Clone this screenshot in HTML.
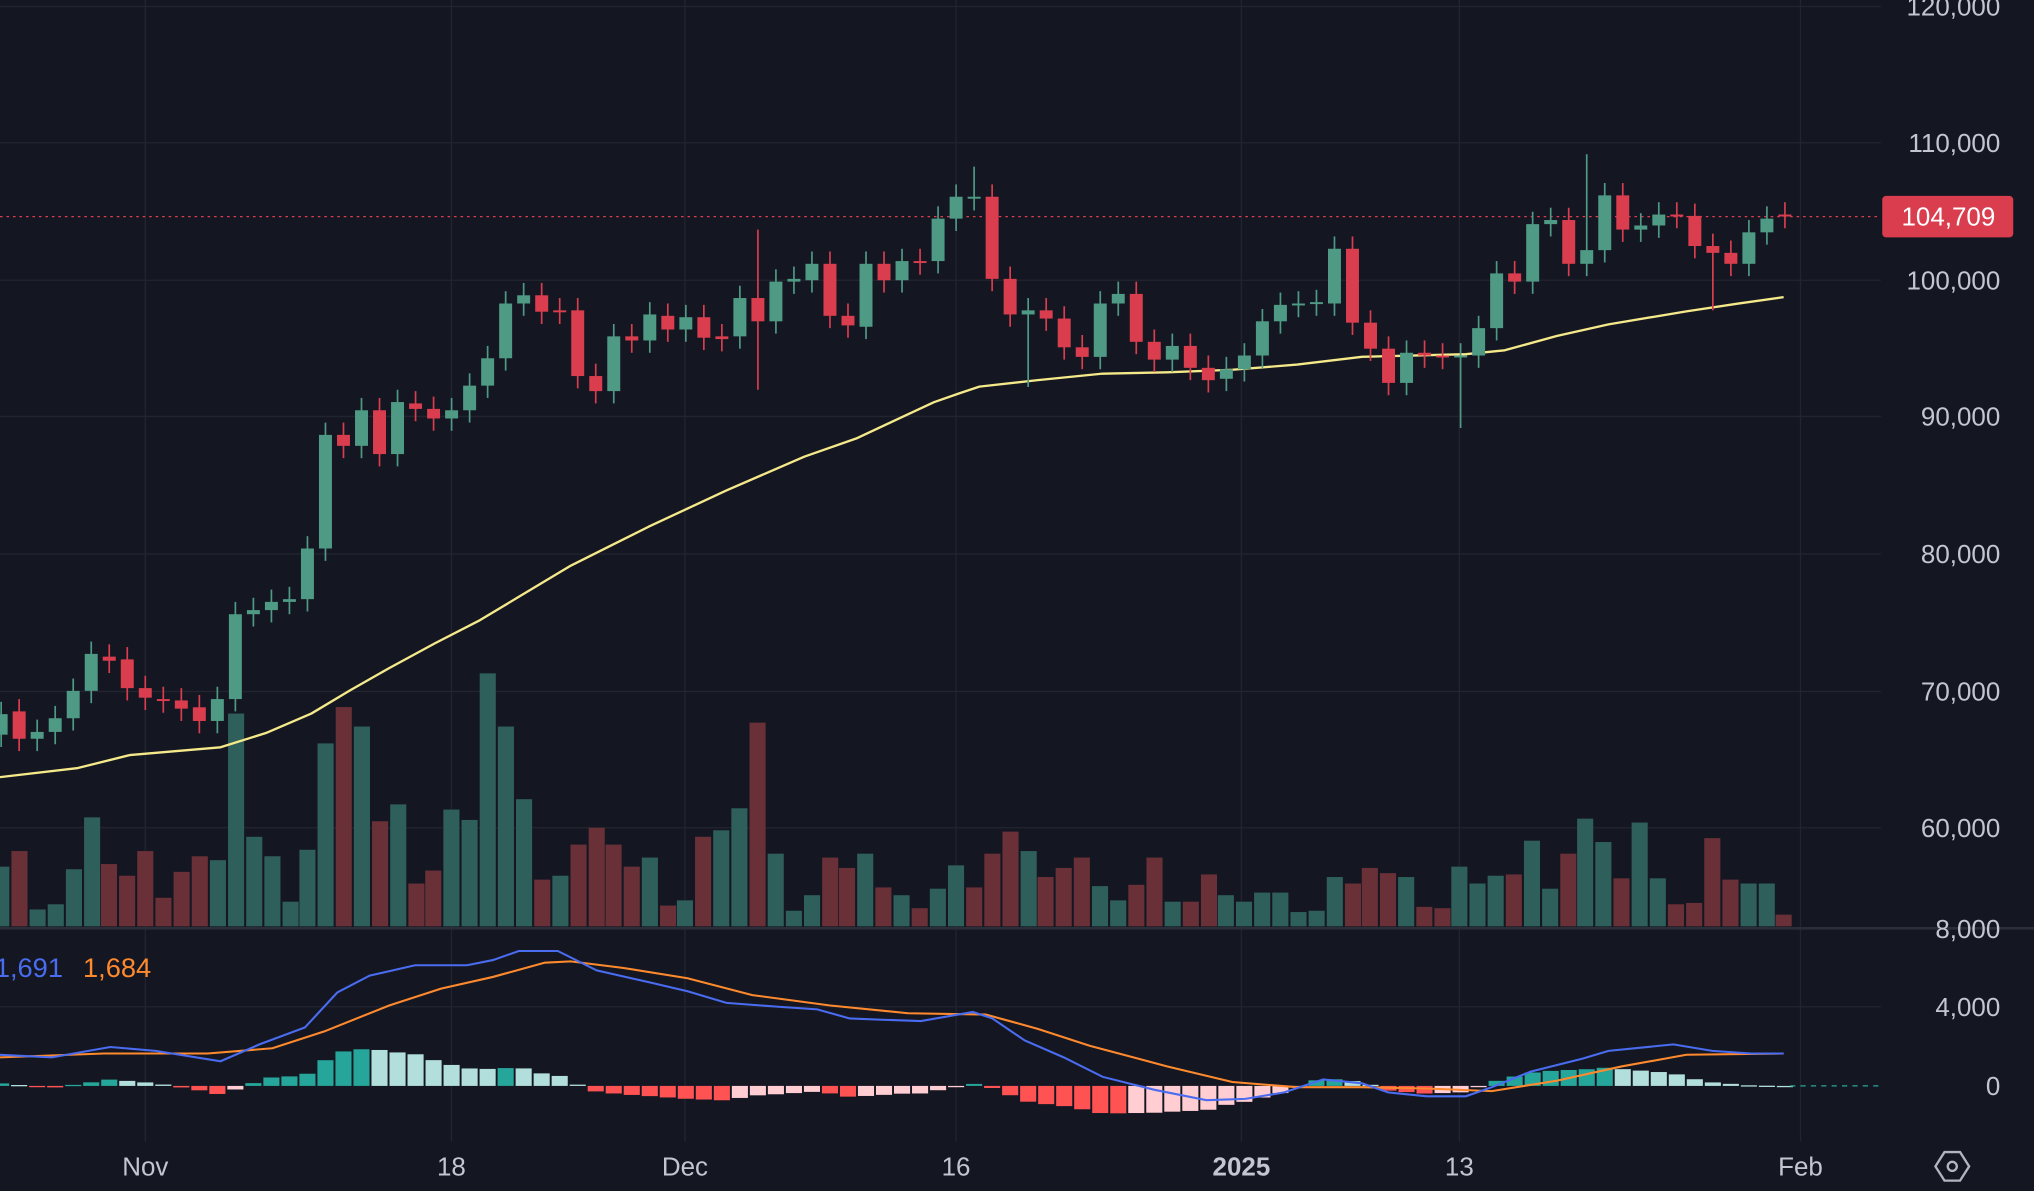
<!DOCTYPE html>
<html><head><meta charset="utf-8"><style>
html,body{margin:0;padding:0;background:#141722;overflow:hidden}
svg{display:block}
text{font-family:"Liberation Sans",sans-serif}
</style></head><body>
<svg id="s" width="2034" height="1191" viewBox="0 0 1568 918" preserveAspectRatio="none" xmlns="http://www.w3.org/2000/svg">
<rect width="1568" height="918" fill="#141722"/>
<g id="grid" stroke="#22252f" stroke-width="1"></g>
<g id="vol"></g>
<g id="hist"></g>
<g id="lines"></g>
<g id="candles"></g>
<g id="labels" fill="#c3c6ce" font-size="20"></g>
</svg>
<script>
const NS="http://www.w3.org/2000/svg";
function el(p,t,a,txt){const e=document.createElementNS(NS,t);for(const k in a)e.setAttribute(k,a[k]);if(txt!==undefined)e.textContent=txt;document.getElementById(p).appendChild(e);return e;}
const X=d=>112+d*13.89;
const Y=p=>216-(p-100)*10.55;
[5,110,216,321,427,533,638].forEach(y=>el('grid','line',{x1:0,x2:1450,y1:y,y2:y}));
[776].forEach(y=>el('grid','line',{x1:0,x2:1450,y1:y,y2:y}));
[112,348,528,737,957,1125,1388].forEach(x=>el('grid','line',{x1:x,x2:x,y1:0,y2:880}));
el('grid','line',{x1:0,x2:1568,y1:715.5,y2:715.5,stroke:'#2a2e39','stroke-width':2});
const oc=[[66.8,68.3],[68.5,66.5],[66.5,67],[67,68],[68,70],[70,72.7],[72.5,72.2],[72.3,70.2],[70.2,69.5],[69.4,69.3],[69.3,68.7],[68.8,67.8],[67.8,69.4],[69.4,75.6],[75.6,75.9],[75.9,76.5],[76.5,76.7],[76.7,80.4],[80.4,88.7],[88.7,87.9],[87.9,90.5],[90.5,87.3],[87.3,91.1],[91.0,90.6],[90.6,89.9],[89.9,90.5],[90.5,92.3],[92.3,94.3],[94.3,98.3],[98.3,98.9],[98.9,97.7],[97.8,97.7],[97.8,93],[93,91.9],[91.9,95.9],[95.9,95.6],[95.6,97.5],[97.4,96.4],[96.4,97.3],[97.3,95.8],[95.9,95.7],[95.9,98.7],[98.7,97.0],[97.0,99.9],[99.9,100.1],[100.0,101.2],[101.2,97.4],[97.4,96.7],[96.6,101.2],[101.2,100.0],[100.0,101.4],[101.4,101.3],[101.4,104.5],[104.5,106.1],[106.0,106.1],[106.1,100.1],[100.1,97.5],[97.5,97.8],[97.8,97.2],[97.2,95.1],[95.1,94.4],[94.4,98.3],[98.3,99.0],[99.0,95.5],[95.5,94.2],[94.2,95.2],[95.2,93.6],[93.6,92.7],[92.8,93.5],[93.5,94.5],[94.5,97],[97,98.2],[98.2,98.3],[98.3,98.4],[98.3,102.3],[102.3,96.9],[96.9,95.0],[95.0,92.5],[92.5,94.7],[94.7,94.5],[94.5,94.4],[94.4,94.5],[94.5,96.5],[96.5,100.5],[100.5,99.9],[99.9,104.1],[104.1,104.4],[104.4,101.2],[101.2,102.2],[102.2,106.2],[106.2,103.7],[103.7,104.0],[104.0,104.8],[104.8,104.7],[104.7,102.5],[102.5,102.0],[102.0,101.2],[101.2,103.5],[103.5,104.5],[104.8,104.7]];
const special={"34":[92,103.7],"46":[null,108.3],"49":[92.2,null],"73":[89.2,null],"80":[null,109.2],"87":[97.8,null]};
oc.forEach((c,i)=>{const d=i-8,x=X(d);const [o,cl]=c;const up=cl>=o;const col=up?'#4e9a84':'#d93d4e';
 let hi=Math.max(o,cl)+0.9,lo=Math.min(o,cl)-0.9;const s=special[String(d)];if(s){if(s[0])lo=s[0];if(s[1])hi=s[1];}
 el('candles','line',{x1:x,x2:x,y1:Y(hi),y2:Y(lo),stroke:col,'stroke-width':1.3});
 const y1=Y(Math.max(o,cl)),y2=Y(Math.min(o,cl));el('candles','rect',{x:x-5,y:y1,width:10,height:Math.max(1.5,y2-y1),fill:col});});
const v=[[1,668,'g'],[15,656,'r'],[29,701,'g'],[43,697,'g'],[57,670,'g'],[71,630,'g'],[84,666,'r'],[98,675,'r'],[112,656,'r'],[126,692,'r'],[140,672,'r'],[154,660,'r'],[168,663,'g'],[182,550,'g'],[196,645,'g'],[210,660,'g'],[224,695,'g'],[237,655,'g'],[251,573,'g'],[265,545,'r'],[279,560,'g'],[293,633,'r'],[307,620,'g'],[321,681,'r'],[334,671,'r'],[348,624,'g'],[362,632,'g'],[376,519,'g'],[390,560,'g'],[404,616,'g'],[418,678,'r'],[432,675,'g'],[446,651,'r'],[460,638,'r'],[473,651,'r'],[487,668,'r'],[501,661,'g'],[515,698,'r'],[528,694,'g'],[542,645,'r'],[556,640,'g'],[570,623,'g'],[584,557,'r'],[598,658,'g'],[612,702,'g'],[626,690,'g'],[640,661,'r'],[653,669,'r'],[667,658,'g'],[681,684,'r'],[695,690,'g'],[709,700,'r'],[723,685,'g'],[737,667,'g'],[751,684,'r'],[765,658,'r'],[779,641,'r'],[793,656,'g'],[806,676,'r'],[820,669,'r'],[834,661,'r'],[848,683,'g'],[862,694,'g'],[876,682,'r'],[890,661,'r'],[904,695,'g'],[918,695,'r'],[932,674,'r'],[945,690,'g'],[959,695,'g'],[973,688,'g'],[987,688,'g'],[1001,703,'g'],[1015,702,'g'],[1029,676,'g'],[1043,681,'r'],[1056,669,'r'],[1070,673,'r'],[1084,676,'g'],[1098,699,'r'],[1112,700,'r'],[1125,668,'g'],[1139,681,'g'],[1153,675,'g'],[1167,674,'r'],[1181,648,'g'],[1195,685,'g'],[1209,658,'r'],[1222,631,'g'],[1236,649,'g'],[1250,677,'r'],[1264,634,'g'],[1278,677,'g'],[1292,697,'r'],[1306,696,'r'],[1320,646,'r'],[1334,678,'r'],[1348,681,'g'],[1362,681,'g'],[1375,705,'r']];
v.forEach(a=>el('vol','rect',{x:a[0]-6.2,y:a[1],width:12.4,height:714-a[1],fill:a[2]=='g'?'#2f5f5b':'#6a3037'}));
const ma=[[0,599],[60,592],[100,582],[170,576],[205,565],[240,550],[270,532],[300,515],[335,496],[370,478],[400,460],[440,436],[470,421],[500,406],[530,392],[560,378],[590,365],[620,352],[660,338],[690,324],[720,310],[740,303],[755,298],[800,293],[850,288],[900,287],[950,285],[1000,281],[1050,275],[1130,273],[1160,270],[1200,259],[1240,250],[1300,240],[1340,234],[1375,229]];
el('lines','polyline',{points:ma.map(p=>p.join(',')).join(' '),fill:'none',stroke:'#f5e98a','stroke-width':1.8,'stroke-linejoin':'round'});
const bl=[[0,813],[40,815],[85,807],[120,810],[170,818],[200,805],[235,792],[260,765],[285,752],[320,744],[360,744],[380,740],[400,733],[430,733],[460,748],[500,757],[530,764],[560,773],[600,776],[630,778],[655,785],[680,786],[710,787],[750,780],[765,785],[790,802],[820,815],[850,830],[890,840],[930,848],[960,847],[990,842],[1020,832],[1050,835],[1070,842],[1100,845],[1130,845],[1150,838],[1180,826],[1220,816],[1240,810],[1290,805],[1320,810],[1350,812],[1375,812]];
const or=[[0,815],[80,812],[160,812],[210,808],[250,795],[300,775],[340,762],[380,753],[420,742],[440,741],[480,746],[530,754],[580,767],[640,775],[700,781],[760,782],[800,793],[840,806],[900,822],[950,834],[1000,838],[1050,838],[1100,839],[1150,841],[1200,833],[1250,822],[1300,813],[1375,812]];
function interp(a,x){for(let i=1;i<a.length;i++){if(x<=a[i][0]){const t=(x-a[i-1][0])/(a[i][0]-a[i-1][0]);return a[i-1][1]+t*(a[i][1]-a[i-1][1]);}}return a[a.length-1][1];}
let prev=0;
for(let d=-8;d<=91;d++){const x=X(d);if(x<-6)continue;const h=(interp(or,x)-interp(bl,x))*1.0;
 let col;if(h>=0)col=h>=prev?'#26a69a':'#b2dfdb';else col=h<prev?'#ff5252':'#ffcdd2';
 const hh=Math.abs(h);el('hist','rect',{x:x-6.2,y:h>=0?837-hh:837,width:12.4,height:Math.max(1,hh),fill:col});prev=h;}
el('hist','line',{x1:1380,x2:1450,y1:837,y2:837,stroke:'#26a69a','stroke-width':1,'stroke-dasharray':'4,4'});
el('lines','polyline',{points:or.map(p=>p.join(',')).join(' '),fill:'none',stroke:'#ff8a2e','stroke-width':1.6});
el('lines','polyline',{points:bl.map(p=>p.join(',')).join(' '),fill:'none',stroke:'#4a6cf0','stroke-width':1.6});
el('lines','line',{x1:0,x2:1450,y1:167,y2:167,stroke:'#d93d4e','stroke-width':1,'stroke-dasharray':'2,3'});
el('labels','rect',{x:1451,y:151,width:101,height:32,rx:3,fill:'#d93d4e'});
el('labels','text',{x:1502,y:174,'text-anchor':'middle',fill:'#fff'},'104,709');
[['120,000',12],['110,000',117],['100,000',223],['90,000',328],['80,000',434],['70,000',540],['60,000',645],['8,000',723],['4,000',783],['0',844]].forEach(a=>el('labels','text',{x:1542,y:a[1],'text-anchor':'end'},a[0]));
[['Nov',112],['18',348],['Dec',528],['16',737],['2025',957],['13',1125],['Feb',1388]].forEach(a=>{const t=el('labels','text',{x:a[1],y:906,'text-anchor':'middle'},a[0]);if(a[0]=='2025')t.setAttribute('font-weight','bold');});
el('labels','text',{x:-4,y:753,fill:'#4a6cf0','font-size':21},'1,691');
el('labels','text',{x:64,y:753,fill:'#ff8a2e','font-size':21},'1,684');
el('labels','polygon',{points:'1499,888 1511,888 1518,899 1511,910 1499,910 1492,899',fill:'none',stroke:'#b2b5be','stroke-width':1.8});
el('labels','circle',{cx:1505,cy:899,r:3.5,fill:'none',stroke:'#b2b5be','stroke-width':1.8});
</script>
</body></html>
